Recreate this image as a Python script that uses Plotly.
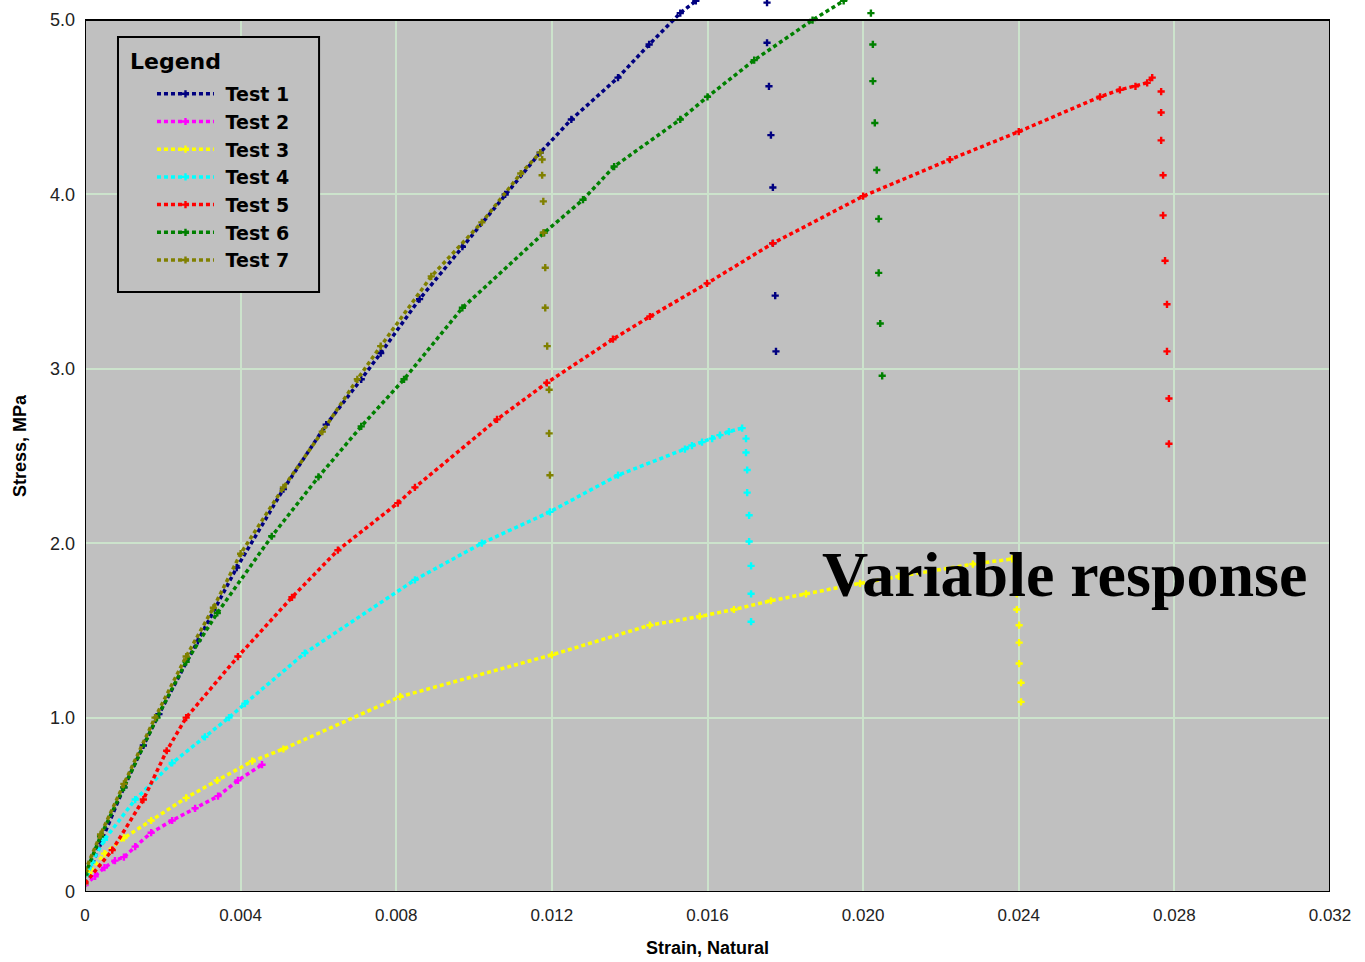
import plotly.graph_objects as go

# ---------------- data ----------------
names = ["Test 1", "Test 2", "Test 3", "Test 4", "Test 5", "Test 6", "Test 7"]
colors = ["#000080", "#FF00FF", "#FFFF00", "#00FFFF", "#FF0000", "#008000", "#808000"]

t1_x = [0, 0.0004, 0.0010, 0.0015, 0.0019, 0.0029, 0.0039, 0.0051, 0.0062, 0.0071, 0.0076,
        0.0086, 0.0097, 0.0108, 0.0117, 0.0125, 0.0137, 0.0145, 0.0153, 0.0157, 0.0163, 0.0170]
t1_y = [0.05, 0.28, 0.60, 0.84, 1.02, 1.44, 1.86, 2.31, 2.68, 2.94, 3.09,
        3.40, 3.70, 4.00, 4.24, 4.43, 4.67, 4.86, 5.04, 5.11, 5.22, 5.35]
t1_dx = [0.01753, 0.01753, 0.01758, 0.01763, 0.01768, 0.01768, 0.01774, 0.01776]
t1_dy = [5.10, 4.87, 4.62, 4.34, 4.04, 3.72, 3.42, 3.10]

t2_x = [0, 0.00026, 0.0005, 0.00077, 0.0010, 0.00129, 0.0017, 0.00224, 0.00283, 0.00342, 0.00393, 0.00455]
t2_y = [0.04, 0.09, 0.14, 0.18, 0.20, 0.26, 0.34, 0.41, 0.48, 0.55, 0.64, 0.73]
t2_dx = []
t2_dy = []

t3_x = [0, 0.0001, 0.0005, 0.0010, 0.0017, 0.0026, 0.0034, 0.0043, 0.0051, 0.0081, 0.0120,
        0.01452, 0.0158, 0.01668, 0.01763, 0.01853, 0.01992, 0.02092, 0.02282, 0.02383]
t3_y = [0.05, 0.11, 0.22, 0.31, 0.41, 0.54, 0.64, 0.75, 0.82, 1.12, 1.36,
        1.53, 1.58, 1.62, 1.67, 1.71, 1.77, 1.81, 1.88, 1.91]
t3_dx = [0.02395, 0.02395, 0.02395, 0.02395, 0.02401, 0.02401, 0.02401, 0.02406, 0.02406]
t3_dy = [1.85, 1.79, 1.71, 1.62, 1.53, 1.43, 1.31, 1.20, 1.09]

t4_x = [0, 0.00018, 0.0005, 0.00129, 0.00224, 0.00308, 0.0037, 0.00411, 0.00565, 0.00848, 0.0102,
        0.01195, 0.0137, 0.01542, 0.0156, 0.01586, 0.01612, 0.01632, 0.01655, 0.01689]
t4_y = [0.05, 0.17, 0.30, 0.53, 0.74, 0.89, 1.00, 1.08, 1.37, 1.79, 2.00,
        2.18, 2.39, 2.54, 2.56, 2.58, 2.60, 2.62, 2.64, 2.66]
t4_dx = [0.01699, 0.01699, 0.01702, 0.01702, 0.01707, 0.01707, 0.01712, 0.01712, 0.01712]
t4_dy = [2.60, 2.52, 2.42, 2.29, 2.16, 2.01, 1.87, 1.71, 1.55]

t5_x = [0, 0.0007, 0.0015, 0.0021, 0.0026, 0.00393, 0.00532, 0.0065, 0.00804, 0.00848, 0.01059,
        0.01187, 0.01357, 0.01452, 0.01599, 0.01768, 0.0200, 0.02223, 0.0240, 0.02609, 0.0266,
        0.0270, 0.0273, 0.02743]
t5_y = [0.05, 0.24, 0.53, 0.81, 1.00, 1.35, 1.69, 1.96, 2.23, 2.32, 2.71,
        2.92, 3.17, 3.30, 3.49, 3.72, 3.99, 4.20, 4.36, 4.56, 4.60,
        4.62, 4.64, 4.67]
t5_dx = [0.02766, 0.02766, 0.02766, 0.02771, 0.02771, 0.02776, 0.02781, 0.02781, 0.02786, 0.02786]
t5_dy = [4.59, 4.47, 4.31, 4.11, 3.88, 3.62, 3.37, 3.10, 2.83, 2.57]

t6_x = [0, 0.0004, 0.0010, 0.00185, 0.0026, 0.0034, 0.0048, 0.0060, 0.0071, 0.0082, 0.0097,
        0.0118, 0.0128, 0.0136, 0.0153, 0.0160, 0.0172, 0.0187, 0.0195, 0.0200]
t6_y = [0.10, 0.32, 0.60, 1.00, 1.32, 1.60, 2.04, 2.38, 2.67, 2.94, 3.35,
        3.78, 3.97, 4.16, 4.43, 4.56, 4.77, 5.00, 5.11, 5.18]
t6_dx = [0.0202, 0.02025, 0.02025, 0.0203, 0.02035, 0.0204, 0.0204, 0.02044, 0.02049]
t6_dy = [5.04, 4.86, 4.65, 4.41, 4.14, 3.86, 3.55, 3.26, 2.96]

t7_x = [0, 0.0004, 0.0010, 0.0018, 0.0026, 0.0033, 0.0040, 0.0051, 0.0061, 0.0070, 0.0076,
        0.0089, 0.0102, 0.0112, 0.0117]
t7_y = [0.12, 0.33, 0.62, 1.00, 1.35, 1.63, 1.94, 2.32, 2.64, 2.94, 3.13,
        3.53, 3.84, 4.12, 4.24]
t7_dx = [0.01175, 0.01175, 0.01178, 0.01178, 0.01183, 0.01183, 0.01188, 0.01193, 0.01193, 0.01195]
t7_dy = [4.20, 4.11, 3.96, 3.78, 3.58, 3.35, 3.13, 2.88, 2.63, 2.39]

loading = [(t1_x, t1_y), (t2_x, t2_y), (t3_x, t3_y), (t4_x, t4_y), (t5_x, t5_y), (t6_x, t6_y), (t7_x, t7_y)]
drops = [(t1_dx, t1_dy), (t2_dx, t2_dy), (t3_dx, t3_dy), (t4_dx, t4_dy), (t5_dx, t5_dy), (t6_dx, t6_dy), (t7_dx, t7_dy)]

x_ticks = [0, 0.004, 0.008, 0.012, 0.016, 0.020, 0.024, 0.028, 0.032]
x_ticktext = ["0", "0.004", "0.008", "0.012", "0.016", "0.020", "0.024", "0.028", "0.032"]
y_ticks = [0, 1, 2, 3, 4, 5]
y_ticktext = ["0", "1.0", "2.0", "3.0", "4.0", "5.0"]

X_MAX = 0.032
Y_MAX = 5.0
Y_VIEW = 5.115   # data drawn above the frame reaches the page top

# ---------------- figure ----------------
fig = go.Figure()
for name, col, (lx, ly), (dx, dy) in zip(names, colors, loading, drops):
    fig.add_trace(go.Scatter(
        x=lx, y=ly, mode="lines+markers", name="<b> " + name + "</b>",
        legendgroup=name,
        line=dict(color=col, width=3.5, dash="4px,3px"),
        marker=dict(symbol="cross", size=6, color=col, line=dict(width=0)),
    ))
    if dx:
        fig.add_trace(go.Scatter(
            x=dx, y=dy, mode="markers", name=name, legendgroup=name,
            showlegend=False,
            marker=dict(symbol="cross", size=6, color=col, line=dict(width=0)),
        ))

# white area above the frame (under the data), and the frame itself
fig.add_shape(type="rect", xref="x", yref="y", x0=0, x1=X_MAX, y0=Y_MAX, y1=Y_VIEW + 1,
              fillcolor="white", line=dict(width=0), layer="between")
fig.add_shape(type="rect", xref="x", yref="y", x0=0, x1=X_MAX, y0=0, y1=Y_MAX,
              fillcolor="rgba(0,0,0,0)", line=dict(color="black", width=2), layer="above")

# legend frame and heading
fig.add_shape(type="rect", xref="paper", yref="paper", x0=0.0265, x1=0.188, y0=0.6726, y1=0.9585,
              fillcolor="#C0C0C0", line=dict(color="black", width=2), layer="above")
fig.add_annotation(
    x=0.0345, y=0.9305, xref="paper", yref="paper", xanchor="left", yanchor="middle",
    text="<b>Legend</b>", showarrow=False,
    font=dict(family="DejaVu Sans, Verdana, sans-serif", size=22, color="black"),
)

fig.add_annotation(
    x=0.0189, y=1.82, xref="x", yref="y", xanchor="left", yanchor="middle",
    text="Variable response", showarrow=False,
    font=dict(family="Liberation Serif, Times New Roman, serif", size=64, color="black", weight="bold"),
)

axis_common = dict(
    showline=False, showgrid=True, gridcolor="#CCE3CC", gridwidth=2, zeroline=False,
    ticks="", automargin=False,
)

fig.update_layout(
    template="none",
    width=1365, height=962,
    margin=dict(l=85, r=35, t=0, b=70),
    paper_bgcolor="white", plot_bgcolor="#C0C0C0",
    font=dict(family="Liberation Sans, Arial, sans-serif", color="black"),
    xaxis=dict(range=[0, X_MAX], tickvals=x_ticks, ticktext=x_ticktext,
               tickfont=dict(family="Liberation Sans, Arial, sans-serif", size=17, color="#222222"),
               title=dict(text="Strain, Natural", standoff=17,
                          font=dict(size=18, weight="bold", color="black")),
               ticklabelstandoff=11, **axis_common),
    yaxis=dict(range=[0, Y_VIEW], tickvals=y_ticks, ticktext=y_ticktext,
               tickfont=dict(family="Liberation Sans, Arial, sans-serif", size=18, color="#222222"),
               title=dict(text="Stress, MPa", standoff=18,
                          font=dict(size=18, weight="bold", color="black")),
               ticklabelstandoff=9, **axis_common),
    showlegend=True,
    legend=dict(
        x=0.0538, y=0.9160, xanchor="left", yanchor="top",
        bgcolor="rgba(0,0,0,0)", borderwidth=0,
        font=dict(family="DejaVu Sans, Verdana, sans-serif", size=19, color="black"),
        itemwidth=57, tracegroupgap=0,
    ),
)

fig.write_html("out.html")
